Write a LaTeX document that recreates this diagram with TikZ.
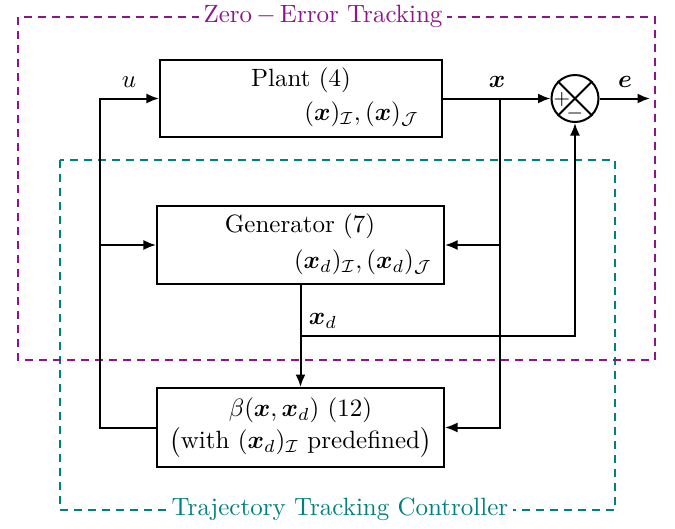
\documentclass[tikz,border=0pt]{standalone}
\usepackage{amsmath,bm}
\usetikzlibrary{arrows.meta}
\definecolor{zpurple}{RGB}{140,20,140}
\definecolor{tteal}{RGB}{0,128,128}
\begin{document}
\begin{tikzpicture}[x=0.4pt,y=-0.4pt,
  blk/.style={draw,thick,rectangle,inner sep=0pt},
  conn/.style={thick,-{Latex[length=5pt,width=4pt]}},
  frame/.style={thick,dash pattern=on 3.2pt off 2.4pt}]
\useasboundingbox (0,0) rectangle (675,528);
% frames
\draw[frame,tteal] (60,160) rectangle (615,510);
\node[fill=white,text=tteal,inner xsep=2pt,inner ysep=0pt] (tlab) at (340,509) {Trajectory Tracking Controller};
\draw[frame,zpurple] (18,17) rectangle (655,360);
\node[fill=white,text=zpurple,inner xsep=2pt,inner ysep=0pt] (zlab) at (323,16) {Zero$\,-\,$Error Tracking};
% blocks
\node[blk,minimum width=112.8pt,minimum height=30.8pt] (plant) at (301,98.5) {};
\node (plantt) at (301,80) {Plant (4)};
\node[anchor=east] (plantb) at (428,114) {$(\bm{x})_{\mathcal{I}},(\bm{x})_{\mathcal{J}}$};
\node[blk,minimum width=114.8pt,minimum height=31.2pt] (gen) at (300.5,245) {};
\node (gent) at (300,226) {Generator (7)};
\node[anchor=east] (genb) at (441,262) {$(\bm{x}_d)_{\mathcal{I}},(\bm{x}_d)_{\mathcal{J}}$};
\node[blk,minimum width=114.8pt,minimum height=31.6pt,align=center] (beta) at (300.5,427.5)
  {$\beta(\bm{x},\bm{x}_d)$ (12)\\[1pt]$\bigl($with $(\bm{x}_d)_{\mathcal{I}}$ predefined$\bigr)$};
% summing junction
\node[draw,thick,circle,minimum size=18.8pt,inner sep=0pt] (sum) at (575,98.5) {};
\draw[thick] (sum.north west) -- (sum.south east);
\draw[thick] (sum.north east) -- (sum.south west);
\node[inner sep=0pt,font=\footnotesize] (plus) at (562,99) {$+$};
\node[inner sep=0pt,font=\footnotesize] (minus) at (575,113) {$-$};
% coordinates
\coordinate (ul) at (100,0);
\coordinate (br) at (500,0);
\coordinate (xd) at (300,336);
\coordinate (eout) at (650,98.5);
% connectors
\draw[conn] (beta.west) -- (beta.west -| ul) -- (plant.west -| ul) -- (plant.west);
\draw[conn] (gen.west -| ul) -- (gen.west);
\draw[conn] (plant.east) -- (sum.west);
\draw[conn] (plant.east -| br) -- (beta.east -| br) -- (beta.east);
\draw[conn] (gen.east -| br) -- (gen.east);
\draw[conn] (sum.east) -- (eout);
\draw[conn] (gen.south) -- (beta.north);
\draw[conn] (gen.south |- xd) -| (sum.south);
% labels
\node (ulab) at (129,82) {$u$};
\node (xlab) at (497,82) {$\bm{x}$};
\node (elab) at (625,82) {$\bm{e}$};
\node (xdlab) at (323,321) {$\bm{x}_d$};
\end{tikzpicture}
\end{document}
